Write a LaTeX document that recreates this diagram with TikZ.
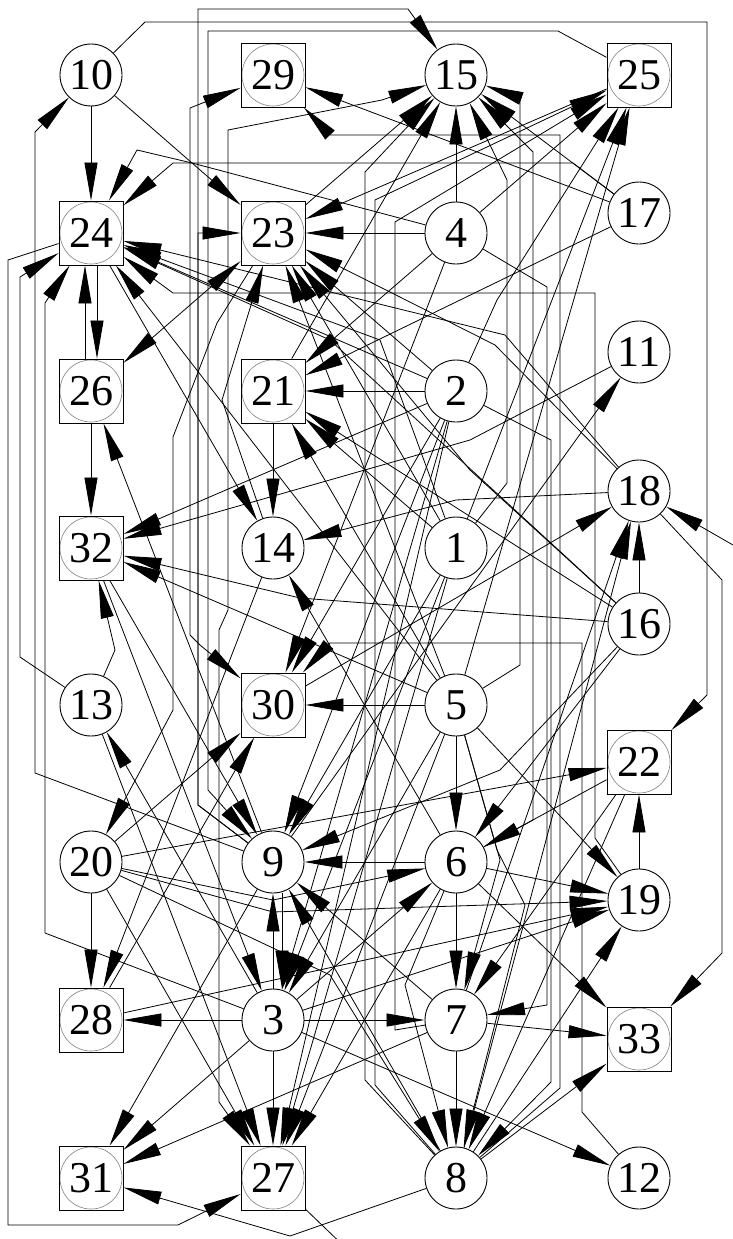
\documentclass[tikz,border=0pt]{standalone}
\usepackage{fontspec}
\setmainfont{Liberation Serif}
\usetikzlibrary{arrows.meta}
\pgfdeclarelayer{bg}
\pgfsetlayers{bg,main}
\tikzset{
 lbl/.style={font=\fontsize{44}{44}\selectfont},
 cn/.style={circle,draw,line width=0.9pt,minimum size=62pt,inner sep=0pt,fill=white,lbl},
 bn/.style={rectangle,draw,line width=0.9pt,minimum size=64pt,inner sep=0pt,fill=white,lbl,
   path picture={\draw[gray,line width=0.6pt] (path picture bounding box.center) circle (31pt);}},
 e/.style={line width=0.8pt,-{Triangle[length=38pt,width=13pt]}},
 ee/.style={line width=0.8pt,{Triangle[length=38pt,width=13pt]}-{Triangle[length=38pt,width=13pt]}},
 ln/.style={line width=0.8pt},
}
\begin{document}
\begin{tikzpicture}[x=1pt,y=-1pt]
\useasboundingbox (0,0) rectangle (732,1239);
% nodes
\node[cn] (n10) at (91,75) {10};
\node[bn] (n29) at (273,75) {29};
\node[cn] (n15) at (456,75) {15};
\node[bn] (n25) at (639,75) {25};
\node[cn] (n17) at (639,213) {17};
\node[bn] (n24) at (91,233) {24};
\node[bn] (n23) at (273,233) {23};
\node[cn] (n4) at (456,233) {4};
\node[cn] (n11) at (639,352) {11};
\node[bn] (n26) at (91,391) {26};
\node[bn] (n21) at (273,391) {21};
\node[cn] (n2) at (456,391) {2};
\node[cn] (n18) at (639,491) {18};
\node[bn] (n32) at (91,548) {32};
\node[cn] (n14) at (273,548) {14};
\node[cn] (n1) at (456,548) {1};
\node[cn] (n16) at (639,624) {16};
\node[cn] (n13) at (91,705) {13};
\node[bn] (n30) at (273,705) {30};
\node[cn] (n5) at (456,705) {5};
\node[bn] (n22) at (639,762) {22};
\node[cn] (n20) at (91,862) {20};
\node[cn] (n9) at (273,862) {9};
\node[cn] (n6) at (456,862) {6};
\node[cn] (n19) at (639,900) {19};
\node[bn] (n28) at (91,1020) {28};
\node[cn] (n3) at (273,1020) {3};
\node[cn] (n7) at (456,1020) {7};
\node[bn] (n33) at (639,1039) {33};
\node[bn] (n31) at (91,1178) {31};
\node[bn] (n27) at (273,1178) {27};
\node[cn] (n8) at (456,1178) {8};
\node[cn] (n12) at (639,1178) {12};
\coordinate (offR) at (780,572);
\coordinate (offB) at (350,1252);
\begin{pgfonlayer}{bg}
\fill[white] (0,0) rectangle (732,1239);
% from 10
\draw[e] (n10) -- (n24);
\draw[e] (n10) -- (192,163) -- (n23);
\draw[e] (n10) -- (145,22) -- (707,22) -- (707,695) -- (n22);
\draw[e] (n9) -- (35,773) -- (35,132) -- (n10);
% from 17
\draw[e] (n17) -- (n29);
\draw[e] (n17) -- (573,163) -- (173,163) -- (n24);
\draw[e] (n17) -- (n15);
\draw[e] (n17) -- (n21);
% from 4
\draw[e] (n4) -- (n15);
\draw[e] (n4) -- (n23);
\draw[e] (n4) -- (192,163) -- (137,150) -- (n24);
\draw[e] (n4) -- (n25);
\draw[e] (n4) -- (n21);
\draw[e] (n4) -- (n30);
\draw[e] (n4) -- (547,287) -- (547,1005) -- (n7);
% from 2
\draw[e] (n2) -- (n21);
\draw[e] (n2) -- (n24);
\draw[e] (n2) -- (497,300) -- (n25);
\draw[e] (n2) -- (n32);
\draw[e] (n2) -- (n23);
\draw[e] (n2) -- (551,440) -- (551,1082) -- (n8);
\draw[e] (n2) -- (n27);
\draw[e] (n2) -- (n3);
\draw[e] (n2) -- (n9);
\draw[e] (n2) -- (n30);
% from 1
\draw[e] (n1) -- (380,340) -- (n24);
\draw[e] (n1) -- (507,483) -- (507,180) -- (n15);
\draw[e] (n1) -- (n25);
\draw[e] (n1) -- (n21);
\draw[e] (n1) -- (n23);
\draw[e] (n1) -- (n27);
\draw[e] (n1) -- (n9);
\draw[e] (n1) -- (n3);
% from 5
\draw[e] (n5) -- (n30);
\draw[e] (n5) -- (n6);
\draw[e] (n5) -- (n24);
\draw[e] (n5) -- (n23);
\draw[e] (n5) -- (n21);
\draw[e] (n5) -- (n32);
\draw[e] (n5) -- (n19);
\draw[e] (n5) -- (500,860) -- (n7);
\draw[e] (n5) -- (497,850) -- (525,905) -- (n8);
\draw[e] (n5) -- (n3);
\draw[e] (n5) -- (n27);
\draw[e] (n5) -- (n25);
\draw[e] (n5) -- (520,665) -- (520,98) -- (n15);
% from 16
\draw[e] (n16) -- (330,340) -- (n24);
\draw[e] (n16) -- (470,470) -- (n23);
\draw[e] (n16) -- (300,598) -- (n32);
\draw[e] (n16) -- (n21);
\draw[e] (n16) -- (500,770) -- (n9);
\draw[e] (n16) -- (n6);
\draw[e] (n16) -- (n18);
% from 18
\draw[e] (n18) -- (505,335) -- (n24);
\draw[e] (n18) -- (495,345) -- (n23);
\draw[e] (n18) -- (722,580) -- (722,953) -- (n33);
\draw[e] (n18) -- (456,500) -- (n14);
\draw[e] (offR) -- (n18);
% 11
\draw[e] (n11) -- (470,440) -- (n32);
\draw[e] (n9) -- (n11);
% 13
\draw[e] (n13) -- (20,657) -- (20,277) -- (n24);
\draw[e] (n13) -- (115,650) -- (n32);
\draw[e] (n3) -- (n13);
\draw[e] (n13) -- (n27);
% 23, 24, 26
\draw[e] (n23) -- (217,323) -- (173,437) -- (173,710) -- (157,740) -- (n20);
\draw[ee] (n23) -- (n26);
\draw[e] (n23) -- (n15);
\draw[e] ([xshift=6pt]n24.south) -- ([xshift=6pt]n26.north);
\draw[e] ([xshift=-6pt]n26.north) -- ([xshift=-6pt]n24.south);
\draw[e] (n24) -- (8,260) -- (8,1225) -- (178,1225) -- (n27);
\draw[e] (n26) -- (n32);
\draw[e] (n9) -- (n26);
\draw[e] (n3) -- (45,933) -- (45,303) -- (n24);
% 21, 14
\draw[e] (n21) -- (n14);
\draw[e] (n21) -- (n15);
\draw[e] (n24) -- (n14);
\draw[e] (n14) -- (222,400) -- (n23);
\draw[e] (n14) -- (n28);
\draw[e] (n6) -- (n14);
% 30, 29
\draw[e] (n12) -- (582,1112) -- (582,643) -- (330,643) -- (n30);
\draw[e] (n20) -- (n30);
\draw[ee] (n30) -- (200,645) -- (190,635) -- (190,108) -- (n29);
\draw[e] (n30) -- (n18);
\draw[e] (n28) -- (n30);
% long verticals
\draw[e] (n9) -- (198,805) -- (198,9) -- (408,9) -- (n15);
\draw[e] (n9) -- (198,805) -- (198,233) -- (n23);
\draw[e] (n25) -- (558,31) -- (208,31) -- (208,790) -- (n9);
\draw[e] (n25) -- (n23);
\draw[ee] (n15) -- (382,100) -- (228,130) -- (228,610) -- (219,630) -- (219,1102) -- (n27);
\draw[e] (n19) -- (595,838) -- (595,293) -- (173,293) -- (n24);
\draw[e] (n6) -- (533,820) -- (533,152) -- (n15);
\draw[e] (n8) -- (365,1080) -- (365,172) -- (n15);
\draw[e] (n8) -- (375,1085) -- (375,200) -- (n25);
\draw[e] (n8) -- (560,1088) -- (560,135) -- (330,135) -- (n29);
\draw[e] (n7) -- (395,1030) -- (395,222) -- (n25);
% 20
\draw[e] (n20) -- (n28);
\draw[e] (n20) -- (n22);
\draw[e] (n20) -- (273,900) -- (n6);
\draw[e] (n20) -- (273,912) -- (n19);
\draw[e] (n20) -- (n27);
\draw[e] (n20) -- (330,975) -- (n8);
% 3
\draw[e] (n3) -- (n28);
\draw[e] (n3) -- (n7);
\draw[e] (n3) -- (n27);
\draw[e] (n3) -- (n31);
\draw[e] (n3) -- (n19);
\draw[e] (n3) -- (n12);
\draw[e] (n3) -- (n9);
\draw[e] (n3) -- (n6);
\draw[e] ([xshift=9pt]n9.south) -- ([xshift=9pt]n3.north);
% 9
\draw[e] (n7) -- (n9);
\draw[e] (n8) -- (n9);
\draw[e] (n9) -- (n31);
% 6
\draw[e] (n6) -- (n9);
\draw[e] (n6) -- (n19);
\draw[e] (n6) -- (n33);
\draw[e] (n6) -- (405,985) -- (n8);
\draw[e] (n6) -- (n7);
\draw[e] (n6) -- (n27);
% 7
\draw[e] (n7) -- (n33);
\draw[e] (n7) -- (n8);
\draw[e] (n7) -- (n31);
\draw[e] (n7) -- (n18);
% 8
\draw[e] (n8) -- (290,1236) -- (n31);
\draw[e] (n8) -- (n33);
\draw[e] (n8) -- (n19);
\draw[e] (n8) -- (n18);
% others
\draw[e] (n28) -- (n19);
\draw[e] (n19) -- (n22);
\draw[e] (n22) -- (n6);
\draw[e] (n22) -- (n7);
\draw[e] (n22) -- (n8);
\draw[e] (n32) -- (n3);
\draw[e] (n32) -- (n9);
\draw[ln] (n27) -- (offB);
\end{pgfonlayer}
\end{tikzpicture}
\end{document}
